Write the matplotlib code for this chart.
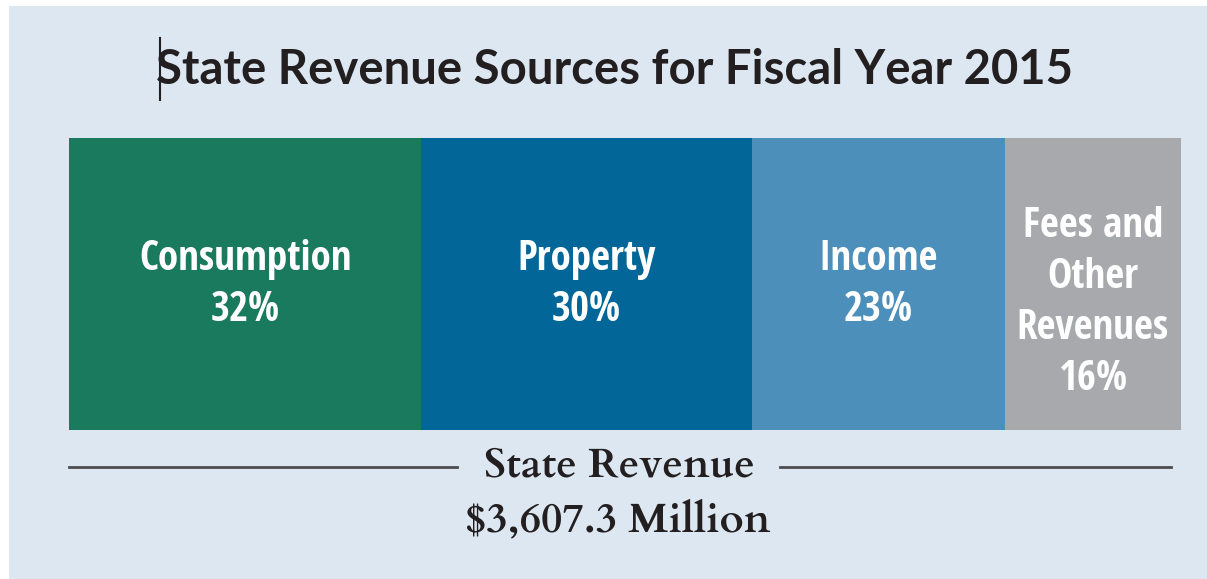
import matplotlib.pyplot as plt
from matplotlib.patches import Rectangle
from matplotlib.lines import Line2D

# datos del grafico
categorias = ["Consumption", "Property", "Income", "Fees and\nOther\nRevenues"]
porcentajes = [32, 30, 23, 16]
colores = ["#1a7a5e", "#036699", "#4b8fba", "#a8a9ad"]
titulo = "State Revenue Sources for Fiscal Year 2015"
total_texto = "$3,607.3 Million"

W, H = 1207, 579
fig = plt.figure(figsize=(W / 100, H / 100), dpi=100)
fig.patch.set_facecolor("white")

# panel azul claro de fondo (detras de todo)
fig.patches.append(Rectangle((9 / W, 0), 1, 1 - 6 / H, transform=fig.transFigure,
                             facecolor="#dce7f1", edgecolor="none", zorder=-10))

def fx(px):
    return px / W

def fy(py):
    return 1 - py / H

# barra apilada
ax = fig.add_axes([fx(69), fy(430), fx(1181) - fx(69), fy(138) - fy(430)])
ax.set_facecolor("none")
izq = 0
for cat, val, col in zip(categorias, porcentajes, colores):
    ax.barh(0, val, left=izq, height=1, color=col, edgecolor="none")
    ypos = -0.005 if cat.count("\n") == 0 else -0.065
    ax.text(izq + val / 2, ypos, f"{cat}\n{val}%", ha="center", va="center",
            color="white", fontsize=29.5, fontweight="bold", linespacing=1.32,
            family=["Open Sans Condensed", "PT Sans Narrow", "DejaVu Sans"])
    izq += val
ax.set_xlim(0, sum(porcentajes))
ax.set_ylim(-0.5, 0.5)
ax.axis("off")

# titulo
fig.text(fx(615), fy(70), titulo, ha="center", va="center", fontsize=34,
         fontweight="bold", color="#231f20", family=["Lato", "DejaVu Sans"])
# cursor de texto que aparece en la imagen
fig.add_artist(Line2D([fx(160), fx(160)], [fy(38), fy(100)], color="#231f20", lw=1.5))

# pie: lineas y textos
fig.add_artist(Line2D([fx(69), fx(457)], [fy(467), fy(467)], color="#4d4d4f", lw=2))
fig.add_artist(Line2D([fx(780), fx(1171)], [fy(467), fy(467)], color="#4d4d4f", lw=2))
serif = ["Cardo", "Crimson Text", "DejaVu Serif"]
fig.text(fx(619), fy(466), "State Revenue", ha="center", va="center", fontsize=30,
         fontweight="bold", color="#231f20", family=serif)
fig.text(fx(618), fy(521), total_texto, ha="center", va="center", fontsize=30,
         fontweight="bold", color="#231f20", family=serif)

fig.savefig("out.png", dpi=100)
